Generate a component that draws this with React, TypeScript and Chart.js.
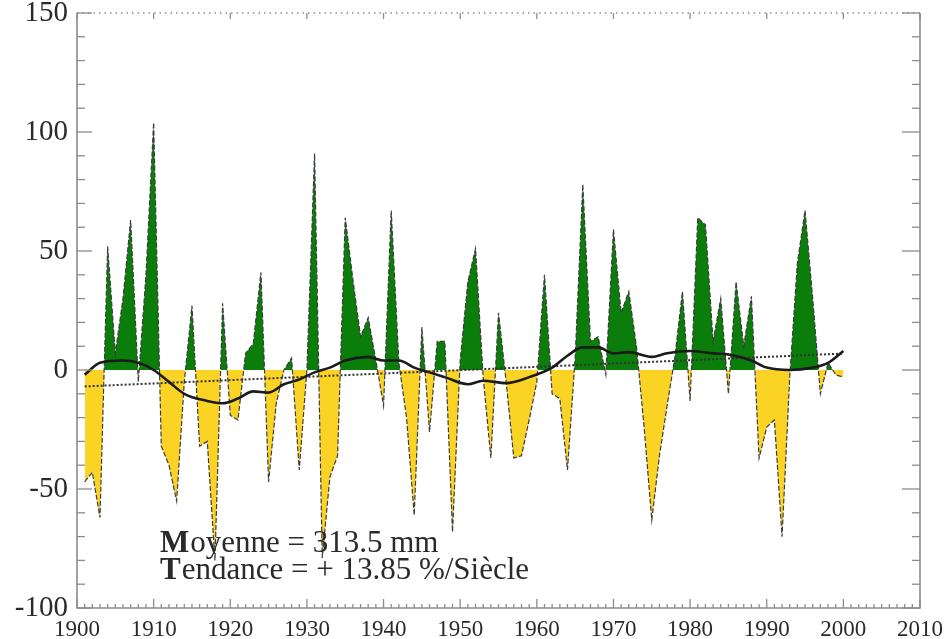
import React, { useEffect, useRef } from "react";
import { Chart, registerables } from "chart.js";

Chart.register(...registerables);

// ---- DATA ----
const years = [
  1901, 1902, 1903, 1904, 1905, 1906, 1907, 1908, 1909, 1910,
  1911, 1912, 1913, 1914, 1915, 1916, 1917, 1918, 1919, 1920,
  1921, 1922, 1923, 1924, 1925, 1926, 1927, 1928, 1929, 1930,
  1931, 1932, 1933, 1934, 1935, 1936, 1937, 1938, 1939, 1940,
  1941, 1942, 1943, 1944, 1945, 1946, 1947, 1948, 1949, 1950,
  1951, 1952, 1953, 1954, 1955, 1956, 1957, 1958, 1959, 1960,
  1961, 1962, 1963, 1964, 1965, 1966, 1967, 1968, 1969, 1970,
  1971, 1972, 1973, 1974, 1975, 1976, 1977, 1978, 1979, 1980,
  1981, 1982, 1983, 1984, 1985, 1986, 1987, 1988, 1989, 1990,
  1991, 1992, 1993, 1994, 1995, 1996, 1997, 1998, 1999, 2000,
];

// anomalies (mm) per year
const anomalies = [
  -47, -43, -62, 52, 7, 30, 63, -5, 40, 104,
  -32, -40, -55, -5, 27, -32, -30, -80, 28, -19,
  -21, 7, 11, 41, -47, -14, 0, 5, -42, 0,
  91, -79, -45, -36, 64, 38, 14, 22, 4, -15,
  67, 3, -20, -61, 18, -26, 12, 12, -68, 4,
  37, 51, -3, -37, 24, -5, -37, -36, -21, -5,
  40, -10, -12, -42, 5, 78, 12, 14, -2, 59,
  24, 33, 10, -24, -63, -36, -15, 5, 33, -13,
  64, 61, 12, 30, -10, 37, 10, 31, -37, -24,
  -21, -70, -3, 45, 67, 30, -10, 3, -2, -3,
];

// smoothed curve, read at these years
const smoothYears = [
  1901, 1903, 1906, 1908, 1910, 1912, 1914, 1917, 1919, 1921,
  1923, 1925, 1927, 1929, 1931, 1933, 1935, 1938, 1940, 1942,
  1944, 1946, 1948, 1951, 1953, 1956, 1959, 1962, 1964, 1966,
  1968, 1970, 1972, 1975, 1977, 1980, 1983, 1985, 1988, 1990,
  1993, 1996, 1998, 2000,
];
const smoothValues = [
  -2, 3, 4, 3, 0, -5, -10, -13, -14, -12,
  -9, -9.5, -6, -4, -1, 1, 4, 5.5, 4, 4,
  1, -1, -3, -6, -4.5, -5.5, -3, 1, 6, 9.5,
  9.5, 7, 7.5, 5.5, 7, 8, 7, 6.5, 4, 1,
  0, 1, 3, 8,
];

// linear trend end points
const trendYears = [1901, 2000];
const trendValues = [-6.9, 6.9];

// axes
const xMin = 1900;
const xMax = 2010;
const yMin = -100;
const yMax = 150;
const xTickStep = 10;
const yTickStep = 50;

const annotationLines = [
  { first: "M", rest: "oyenne = 313.5 mm" },
  { first: "T", rest: "endance = + 13.85 %/Siècle" },
];

const GREEN = "#0b7d0b";
const YELLOW = "#fbd325";
const AXIS = "#8c8c8c";
const TEXT = "#2a2a2a";
const SERIF = '"Liberation Serif", "DejaVu Serif", serif';

const framePlugin = {
  id: "idlFrame",
  afterDatasetsDraw(chart: any) {
    const { ctx, chartArea, scales } = chart;
    const { left, right, top, bottom } = chartArea;
    const x = scales.x;
    const y = scales.y;
    const seg = (x1: number, y1: number, x2: number, y2: number) => {
      ctx.beginPath();
      ctx.moveTo(x1, y1);
      ctx.lineTo(x2, y2);
      ctx.stroke();
    };
    ctx.save();
    ctx.strokeStyle = AXIS;
    ctx.lineWidth = 1.6;
    ctx.beginPath();
    ctx.moveTo(left, top);
    ctx.lineTo(left, bottom);
    ctx.lineTo(right, bottom);
    ctx.lineTo(right, top);
    ctx.stroke();
    ctx.lineWidth = 1.3;
    for (let v = yMin; v <= yMax; v += 10) {
      const py = y.getPixelForValue(v);
      const major = v % yTickStep === 0;
      seg(left, py, left + (major ? 15 : 8), py);
      seg(right, py, right - (major ? 18 : 8), py);
    }
    for (let yr = xMin; yr <= xMax; yr += 1) {
      const px = x.getPixelForValue(yr);
      const major = yr % xTickStep === 0;
      seg(px, bottom, px, bottom - (major ? 9 : 4));
    }
    ctx.setLineDash([1.5, 4]);
    seg(left, top, right, top);
    ctx.setLineDash([]);
    for (let yr = xMin; yr <= xMax; yr += xTickStep) {
      const px = x.getPixelForValue(yr);
      seg(px, top, px, top + 6);
    }
    ctx.restore();
  },
  afterDraw(chart: any) {
    const { ctx } = chart;
    ctx.save();
    ctx.fillStyle = TEXT;
    ctx.textBaseline = "alphabetic";
    ctx.textAlign = "left";
    const x0 = 160;
    const baselines = [552, 579];
    annotationLines.forEach((ln, i) => {
      ctx.font = `bold 31px ${SERIF}`;
      ctx.fillText(ln.first, x0, baselines[i]);
      const w = ctx.measureText(ln.first).width;
      ctx.font = `31px ${SERIF}`;
      ctx.fillText(ln.rest, x0 + w + 1, baselines[i]);
    });
    ctx.restore();
  },
};

export default function App() {
  const ref = useRef<HTMLCanvasElement | null>(null);
  useEffect(() => {
    if (!ref.current) return;
    const chart = new Chart(ref.current, {
      type: "line",
      data: {
        datasets: [
          {
            label: "smooth",
            data: smoothYears.map((yr, i) => ({ x: yr, y: smoothValues[i] })),
            borderColor: "#1b1b1b",
            borderWidth: 2.6,
            pointRadius: 0,
            fill: false,
            cubicInterpolationMode: "monotone",
            order: 1,
          },
          {
            label: "trend",
            data: trendYears.map((yr, i) => ({ x: yr, y: trendValues[i] })),
            borderColor: "#333333",
            borderWidth: 2,
            borderDash: [2, 2],
            pointRadius: 0,
            fill: false,
            order: 2,
          },
          {
            label: "anomaly",
            data: years.map((yr, i) => ({ x: yr, y: anomalies[i] })),
            borderColor: "#3c3c3c",
            borderWidth: 1.2,
            borderDash: [5, 2],
            pointRadius: 0,
            tension: 0,
            fill: { target: "origin", above: GREEN, below: YELLOW },
            order: 3,
          },
        ],
      },
      options: {
        animation: false,
        responsive: true,
        maintainAspectRatio: false,
        layout: { padding: { left: 0, right: 27, top: 13, bottom: 0 } },
        plugins: {
          legend: { display: false },
          tooltip: { enabled: false },
          title: { display: false },
        },
        scales: {
          x: {
            type: "linear",
            min: xMin,
            max: xMax,
            grid: { display: false, drawTicks: false },
            border: { display: false },
            ticks: {
              stepSize: xTickStep,
              padding: 8,
              color: TEXT,
              font: { family: SERIF, size: 23 },
              callback: (v: any) => String(v),
              maxRotation: 0,
            },
            afterFit: (s: any) => {
              s.height = 31;
              s.paddingLeft = 0;
              s.paddingRight = 0;
            },
          },
          y: {
            type: "linear",
            min: yMin,
            max: yMax,
            grid: { display: false, drawTicks: false },
            border: { display: false },
            ticks: {
              stepSize: yTickStep,
              padding: 9,
              color: TEXT,
              font: { family: SERIF, size: 29 },
            },
            afterFit: (s: any) => {
              s.width = 77;
              s.paddingTop = 0;
              s.paddingBottom = 0;
            },
          },
        },
      },
      plugins: [framePlugin],
    });
    return () => chart.destroy();
  }, []);
  return (
    <div style={{ position: "absolute", left: 0, top: 0, width: 947, height: 639, background: "#fff" }}>
      <canvas ref={ref} />
    </div>
  );
}
